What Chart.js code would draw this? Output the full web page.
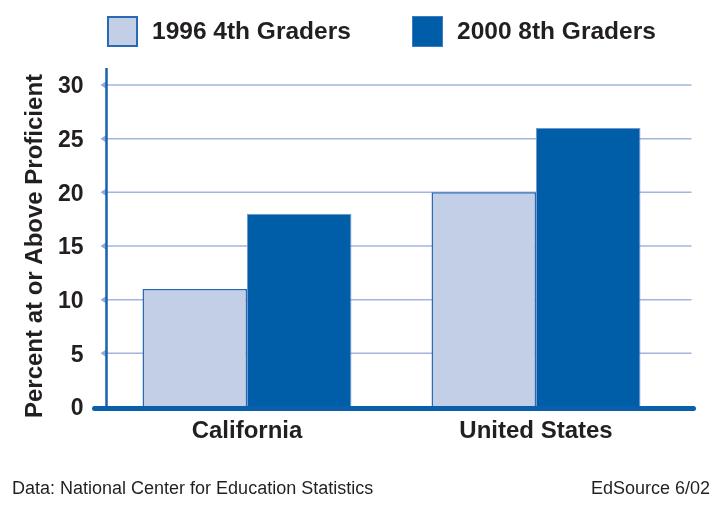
<!DOCTYPE html>
<html>
<head>
<meta charset="utf-8">
<script src="https://cdn.jsdelivr.net/npm/chart.js@4"></script>
<style>
  html,body{margin:0;padding:0;background:#fff;}
  body{width:726px;height:512px;position:relative;overflow:hidden;font-family:"Liberation Sans",Arial,sans-serif;color:#231f20;}
  #wrap{position:absolute;left:0;top:0;width:726px;height:512px;}
  .lg{position:absolute;top:15px;height:32px;display:flex;align-items:center;font-weight:bold;font-size:24.5px;}
  .lg i{display:inline-block;width:31px;height:31px;margin-right:14px;box-sizing:border-box;}
  .foot{position:absolute;top:478px;font-size:18px;}
</style>
</head>
<body>
<div id="wrap"><canvas id="gradesChart" width="726" height="512"></canvas></div>
<div class="lg" style="left:107px"><i style="background:#c3cfe6;border:2px solid #2a6ab2"></i>1996 4th Graders</div>
<div class="lg" style="left:412px"><i style="background:#005ea9;border:1px solid #3d7cc0"></i>2000 8th Graders</div>
<div class="foot" style="left:12px">Data: National Center for Education Statistics</div>
<div class="foot" style="right:16px">EdSource 6/02</div>
<script>
const categories = ['California', 'United States'];
const grade4_1996 = [11, 20];
const grade8_2000 = [18, 26];
const yTicks = [0, 5, 10, 15, 20, 25, 30];

// light gridlines with small arrow marks, plus the two axis lines
const axisPlugin = {
  id: 'axisLines',
  beforeDatasetsDraw(chart){
    const {ctx, chartArea, scales:{y}} = chart;
    ctx.save();
    yTicks.forEach(v => {
      if (v === 0) return;
      const py = y.getPixelForValue(v);
      ctx.strokeStyle = '#a3b5dc'; ctx.lineWidth = 1.5;
      ctx.beginPath(); ctx.moveTo(chartArea.left + 4, py); ctx.lineTo(chartArea.right + 11, py); ctx.stroke();
      ctx.fillStyle = '#8eabd9';
      ctx.beginPath(); ctx.moveTo(chartArea.left - 2, py); ctx.lineTo(chartArea.left + 4, py - 4); ctx.lineTo(chartArea.left + 4, py + 4); ctx.closePath(); ctx.fill();
    });
    ctx.restore();
  },
  afterDatasetsDraw(chart){
    const {ctx, chartArea, scales:{y}} = chart;
    const y0 = y.getPixelForValue(0);
    ctx.save();
    ctx.strokeStyle = '#1a62ae'; ctx.lineWidth = 2.5;
    ctx.beginPath(); ctx.moveTo(chartArea.left + 4, chartArea.top - 17); ctx.lineTo(chartArea.left + 4, y0); ctx.stroke();
    ctx.strokeStyle = '#0a5fab'; ctx.lineWidth = 5; ctx.lineCap = 'round';
    ctx.beginPath(); ctx.moveTo(chartArea.left - 8, y0 + 1.5); ctx.lineTo(chartArea.right + 13, y0 + 1.5); ctx.stroke();
    ctx.restore();
  }
};

window.addEventListener('DOMContentLoaded', ()=>{
  const ctx = document.getElementById('gradesChart');
  new Chart(ctx, {
    type: 'bar',
    data: {
      labels: categories,
      datasets: [
        { label: '1996 4th Graders', data: grade4_1996, backgroundColor: '#c3cfe6', borderColor: '#2a6ab2', borderWidth: 1.5 },
        { label: '2000 8th Graders', data: grade8_2000, backgroundColor: '#005ea9', borderColor: '#6f98cf', borderWidth: 1 }
      ]
    },
    options: {
      responsive: false,
      animation: false,
      devicePixelRatio: 1,
      layout: { padding: { top: 85, right: 45.5, left: 0, bottom: 0 } },
      plugins: { legend: { display: false }, tooltip: { enabled: false } },
      datasets: { bar: { barPercentage: 1, categoryPercentage: 0.723 } },
      scales: {
        x: {
          grid: { display: false, drawTicks: false },
          border: { display: false },
          ticks: { color: '#231f20', padding: 10, font: { family: '"Liberation Sans", Arial', size: 24, weight: 'bold' } },
          afterFit: s => { s.height = 105; }
        },
        y: {
          min: 0, max: 30,
          afterBuildTicks: s => { s.ticks = yTicks.map(v => ({ value: v })); },
          grid: { display: false, drawTicks: false },
          border: { display: false },
          ticks: { color: '#231f20', padding: 19, labelOffset: 2, font: { family: '"Liberation Sans", Arial', size: 23, weight: 'bold' } },
          title: { display: true, text: 'Percent at or Above Proficient', color: '#231f20', padding: { top: 21, bottom: 0 }, font: { family: '"Liberation Sans", Arial', size: 24, weight: 'bold' } },
          afterFit: s => { s.width = 102.5; }
        }
      }
    },
    plugins: [axisPlugin]
  });
});
</script>
</body>
</html>
